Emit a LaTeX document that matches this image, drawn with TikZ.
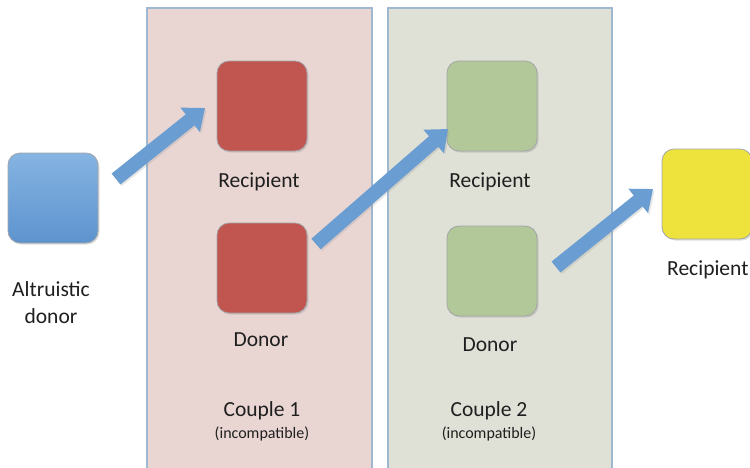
\documentclass[tikz,border=0pt]{standalone}
\usepackage{fontspec}
\setmainfont{Carlito}
\usetikzlibrary{arrows.meta,shadows}
\definecolor{panelA}{HTML}{E9D6D3}
\definecolor{panelB}{HTML}{DFE0D6}
\definecolor{panelEdge}{HTML}{9FB8D2}
\definecolor{redbox}{HTML}{C0564F}
\definecolor{greenbox}{HTML}{B2C898}
\definecolor{bluetop}{HTML}{86B4E2}
\definecolor{bluebot}{HTML}{5D93CE}
\definecolor{yellowbox}{HTML}{EEE33C}
\definecolor{arrowblue}{HTML}{6A9DD1}
\definecolor{boxedge}{HTML}{7A7F86}
\tikzset{
  panel/.style={fill=#1, draw=panelEdge, line width=1.3pt},
  organ/.style={rectangle, rounded corners=12pt, minimum width=90pt, minimum height=90pt,
    draw=boxedge!70, line width=0.8pt, drop shadow={opacity=0.25, shadow xshift=1.5pt, shadow yshift=-1.5pt}},
  lbl/.style={font=\fontsize{21.5}{27}\selectfont, text=black!88, align=center},
  sublbl/.style={font=\fontsize{16}{18}\selectfont, text=black!88},
  flow/.style={draw=arrowblue, line width=14pt,
    -{Triangle[length=19pt, width=30pt]},
    preaction={draw=black!40, opacity=0.25, line width=14pt, transform canvas={xshift=1.5pt, yshift=-1.5pt}}},
}
\begin{document}
\begin{tikzpicture}[x=1pt, y=-1pt]
\useasboundingbox (0,0) rectangle (750,467);
\fill[white] (0,0) rectangle (750,467);
% panels
\draw[panel=panelA] (147,8) rectangle (372,475);
\draw[panel=panelB] (388,8) rectangle (612,475);
% boxes
\node[organ, top color=bluetop, bottom color=bluebot] (alt) at (53,198) {};
\node[organ, fill=redbox] (r1) at (262,106) {};
\node[organ, fill=redbox] (d1) at (262,268) {};
\node[organ, fill=greenbox] (r2) at (492,106) {};
\node[organ, fill=greenbox] (d2) at (492,271) {};
\node[organ, fill=yellowbox] (r3) at (707,194) {};
% labels
\node[lbl] (altl) at (51,303) {Altruistic\\donor};
\node[lbl] (r1l) at (259,182) {Recipient};
\node[lbl] (d1l) at (261,340) {Donor};
\node[lbl] (c1l) at (262,411) {Couple 1};
\node[sublbl] (c1s) at (262,434) {(incompatible)};
\node[lbl] (r2l) at (490,182) {Recipient};
\node[lbl] (d2l) at (490,345) {Donor};
\node[lbl] (c2l) at (489,411) {Couple 2};
\node[sublbl] (c2s) at (489,434) {(incompatible)};
\node[lbl, anchor=east] (r3l) at (752,270) {Recipient};
% arrow ends
\coordinate (a1s) at (116,179);
\coordinate (a1e) at (205,108);
\coordinate (a2s) at (316,244);
\coordinate (a2e) at (448,129);
\coordinate (a3s) at (556,267);
\coordinate (a3e) at (653,189);
\draw[flow] (a1s) -- (a1e);
\draw[flow] (a2s) -- (a2e);
\draw[flow] (a3s) -- (a3e);
\end{tikzpicture}
\end{document}
